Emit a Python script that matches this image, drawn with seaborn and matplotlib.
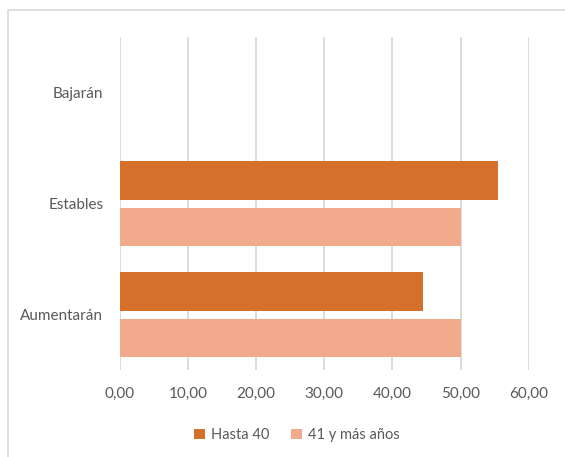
import pandas as pd
import matplotlib
matplotlib.use("Agg")
import matplotlib.pyplot as plt
import seaborn as sns
from matplotlib.patches import Rectangle

categorias = ["Bajarán", "Estables", "Aumentarán"]
series = ["Hasta 40", "41 y más años"]
hasta_40 = [0.0, 55.56, 44.44]
mas_41 = [0.0, 50.0, 50.0]
ticks_x = [0, 10, 20, 30, 40, 50, 60]
colores = ["#D46F2C", "#F1AA8C"]

df = pd.DataFrame({
    "categoria": categorias * 2,
    "serie": [series[0]] * 3 + [series[1]] * 3,
    "valor": hasta_40 + mas_41,
})

sns.set_style("white")
plt.rcParams["font.family"] = ["Lato", "DejaVu Sans"]

fig = plt.figure(figsize=(5.65, 4.57), dpi=100)
ax = fig.add_axes([0.2124, 0.19, 0.9356 - 0.2124, 0.919 - 0.19])

sns.barplot(data=df, y="categoria", x="valor", hue="serie", order=categorias,
            hue_order=series, palette=colores, saturation=1, orient="h",
            width=0.84, gap=0.17, linewidth=0, ax=ax, legend=True)

ax.set_xlim(0, 60)
ax.set_ylim(2.5, -0.5)
ax.set_xticks(ticks_x)
ax.set_xticklabels([f"{t:.2f}".replace(".", ",") for t in ticks_x])
ax.set_xlabel("")
ax.set_ylabel("")
ax.grid(axis="x", color="#D9D9D9", linewidth=1.3)
ax.set_axisbelow(True)
for s in ax.spines.values():
    s.set_visible(False)
ax.tick_params(axis="x", length=3, color="#D9D9D9", width=1.3, pad=9,
               labelsize=11, labelcolor="#595959")
ax.tick_params(axis="y", length=0, pad=12, labelsize=11, labelcolor="#595959")

ax.get_legend().remove()
handles, labels = ax.get_legend_handles_labels()
fig.legend(handles, labels, loc="center", bbox_to_anchor=(0.525, 0.048), ncol=2,
           frameon=False, handlelength=0.75, handleheight=0.75, handletextpad=0.4,
           columnspacing=1.5, fontsize=10.5, labelcolor="#595959")

# marco del gráfico
fig.add_artist(Rectangle((8 / 565, -0.1), 1.2, 1.1 - 10 / 457, transform=fig.transFigure,
                         fill=False, edgecolor="#D9D9D9", linewidth=1.2))

fig.savefig("out.png", dpi=100)
